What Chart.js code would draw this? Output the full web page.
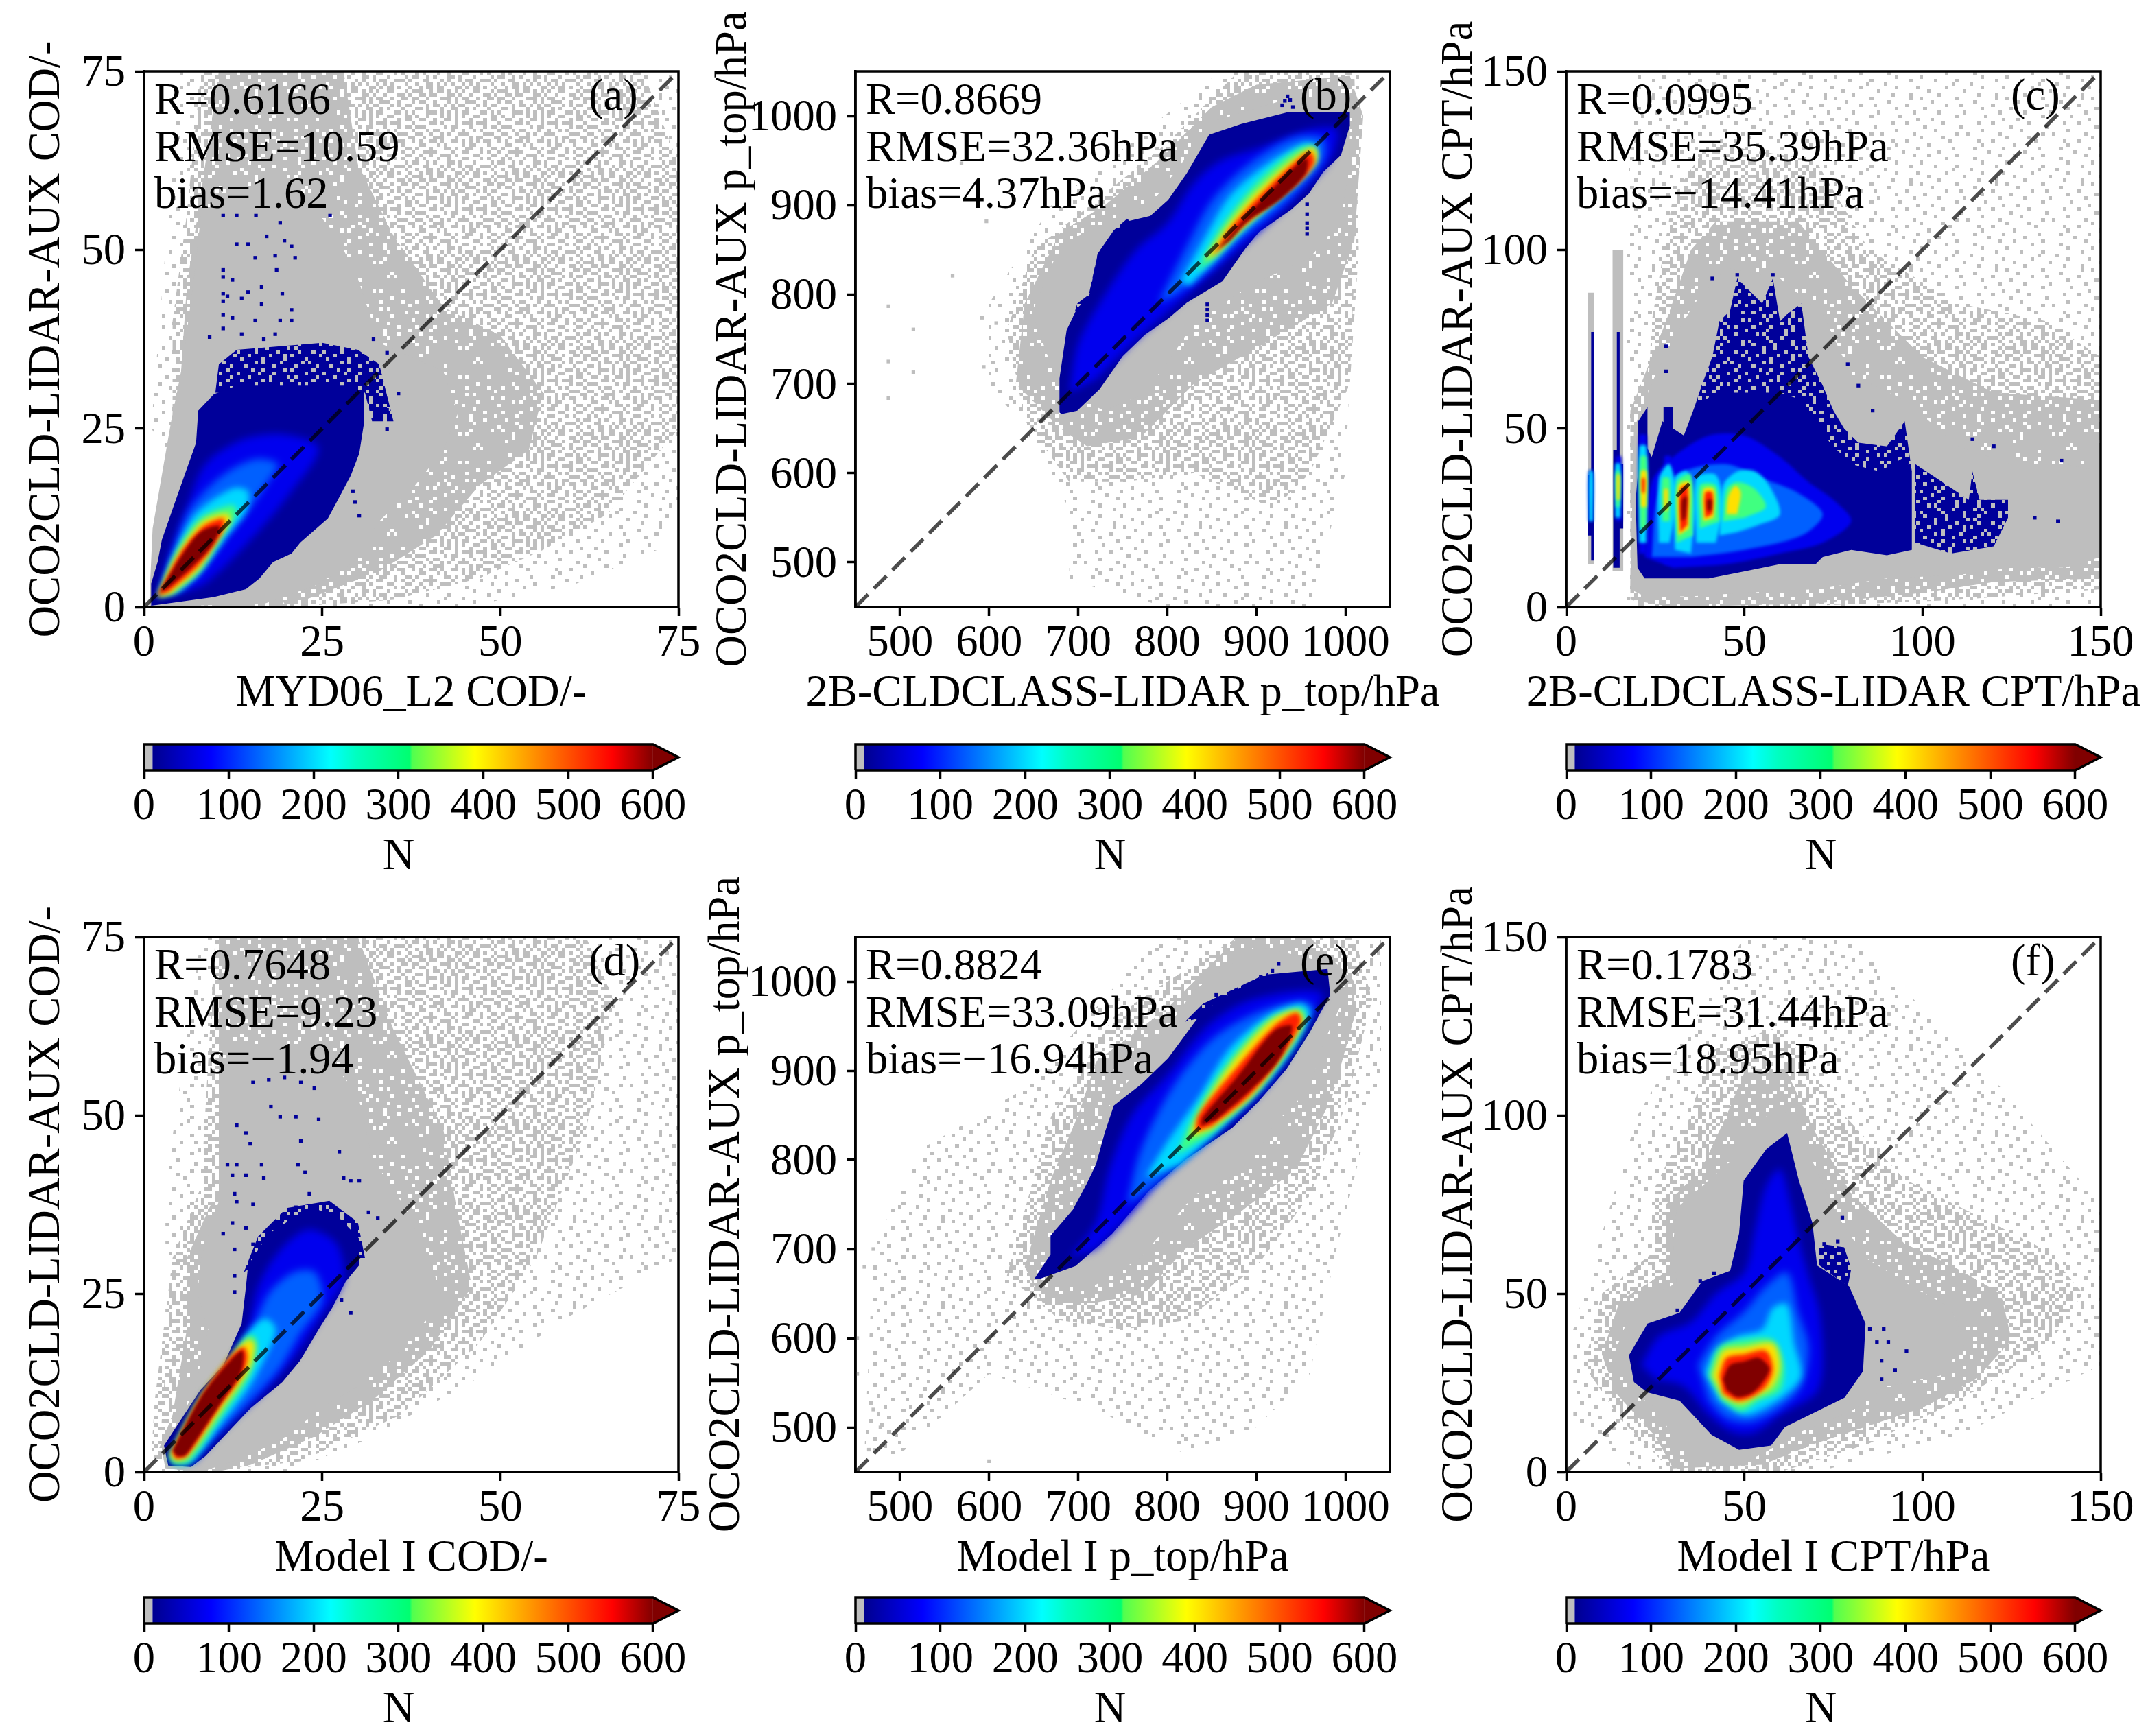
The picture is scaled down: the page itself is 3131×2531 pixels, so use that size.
<!DOCTYPE html>
<html>
<head>
<meta charset="utf-8">
<title>Cloud property comparison</title>
<script src="https://cdn.jsdelivr.net/npm/chart.js@4"></script>
<style>
  html, body { margin: 0; background: #fff; overflow: hidden; width: 3131px; height: 2531px; }
  canvas { position: absolute; }
</style>
</head>
<body>
<script>
// Data. Every region is a list of polygons, each a flat x,y,x,y list in axis units.
const codTicks = [0, 25, 50, 75];
const pressureTicks = [500, 600, 700, 800, 900, 1000];
const cptTicks = [0, 50, 100, 150];
const countTicks = [0, 100, 200, 300, 400, 500, 600];
const cmapCounts = [10, 79, 220, 250, 313, 316, 390, 460, 552, 600];
const cmapColors = ["#00008f", "#0000ff", "#00ffff", "#00ffc0", "#00ff70", "#50ff50", "#ffff00", "#ff9000", "#ff0000", "#800000"];

// (a)
const aSparse = [[1,25, 3,50, 5,75, 75,75, 75,15, 72,8, 60,3, 45,0, 20,0]];
const aMedium = [[4,25, 4,40, 6,55, 8,75, 70,75, 75,62, 75,25, 65,13, 56,8, 47,4, 35,1, 20,0]];
const aDense = [[5,30, 6,45, 8,58, 10.5,75, 28,75, 30,62, 35,52, 42,42, 50,38, 56,30, 54,22, 47,17, 41,10, 33,5, 20,0, 6,0]];
const aSolid = [[0.7,0, 1.2,11, 3.8,26, 5.4,34, 7,46, 8,55, 12,58, 22,58, 27,52, 30,46, 33,37, 42,33, 44,27, 42,22, 38,17, 33,12, 29,6, 24,3, 17,0.5]];
const aSpeck = [[10,30, 10.5,34, 13,36, 25,37, 30,36, 33,34, 35,26, 32,26, 31,30]];
const aBlue0 = [[1,0.2, 1,3.3, 1.9,6.3, 2.5,9.4, 4.1,14, 5.7,18.5, 7.3,23, 7.6,27.5, 9.8,29.8, 13,31, 24.5,31, 28.3,31, 30.9,30, 30.9,26, 30.2,21.5, 29,18.4, 27.4,15.4, 25.8,12.4, 21.9,9, 20.7,7.5, 18.1,6.3, 16.2,4, 14.3,2.5, 9.8,1.4, 5.4,0.8]];
const aBlue1 = [[1.9,1.7, 3.4,7, 6,14, 8.6,20, 13.7,23.4, 19.4,24.2, 24.5,22.3, 20.7,16.2, 15.6,10.1, 8.6,3.3, 4.1,1.7]];
const aBlue2 = [[2.2,1.7, 4.4,8.6, 6.6,13.9, 11.1,18.5, 15.6,20.7, 18.8,20, 17.5,17.7, 14.3,13.1, 10.5,8.6, 5.4,2.5]];
const aCyan = [[2.2,1.6, 4.4,7.8, 7.3,13.1, 12.4,16.6, 14.6,16.2, 14.3,13.5, 11.7,10.1, 7.9,4.8, 4.7,2.1]];
const aGreen = [[1.9,1.4, 4.4,7.4, 7.9,12.4, 12.4,14.3, 13,13.1, 11.7,11.2, 7.9,5.2, 4.1,1.9]];
const aYellow = [[1.9,1.4, 4.7,7.4, 8.2,12, 11.7,13.1, 12.1,12, 10.5,9.7, 7.6,5.2, 3.8,1.9]];
const aRed = [[1.9,1.6, 5,7.4, 8.2,11.2, 11.1,12.4, 11.1,10.9, 9.8,8.6, 7.3,5.5, 3.4,2.1]];
const aDark = [[2.2,2.1, 5.4,7.4, 7.9,10.5, 10.5,11.4, 10.5,10.5, 9.2,8.2, 6.6,5.5, 3.4,2.7]];
const aGreyCells = [];
const aBlueCells = [11.1,54.8, 13,54.8, 15.7,54.8, 26.1,54.8, 19.1,53.8, 17.2,51.9, 19.7,51.3, 20.7,50.5, 13,50.8, 14.6,50.8, 15.6,48.9, 18.4,49.2, 21.2,48.9, 18.6,47.2, 11.1,47.2, 11.1,46.2, 12.4,45.8, 16.5,44.8, 11.1,43.9, 14.6,44.1, 19.4,43.9, 11.7,43.5, 13.7,43.2, 11.1,42.8, 16.5,42.4, 20.7,41.6, 11.1,40.9, 12.4,40.5, 15.6,40.1, 19.1,40.1, 20.7,40.1, 11.1,39, 13.7,38.2, 9.2,37.8, 18.4,38.2, 16.8,37.5, 19.5,36.3, 34.1,35.6, 32.2,37.5, 35.7,29.9, 34.1,27.6, 34.1,24.9, 32.8,27.2, 29.6,14.7, 30.2,12.8, 29.3,16.2];

// (b)
const bSparse = [[690,480, 690,560, 640,650, 600,700, 600,790, 670,900, 860,1050, 1020,1050, 1000,600, 960,450, 800,450]];
const bMedium = [[690,590, 640,660, 620,760, 650,850, 720,905, 800,970, 880,1050, 1010,1050, 1015,850, 1005,700, 960,600, 920,560, 830,600, 750,590]];
const bDense = [[630,700, 640,790, 680,870, 730,900, 790,950, 850,1010, 900,1035, 1005,1045, 1020,1000, 1010,860, 985,790, 900,740, 830,700, 770,640, 710,630, 680,650]];
const bSolid = [[679,695, 648,780, 674,841, 699,865, 751,889, 782,902, 823,956, 848,993, 928,1017, 1005,1023, 1005,950, 995,883, 960,841, 893,810, 831,768, 775,689, 729,670]];
const bSpeck = [[690,760, 699,790, 712,800, 722,846, 740,872, 755,885, 770,870, 740,800, 700,740]];
const bBlue0 = [[679,668, 679,706, 687,760, 699,785, 712,797, 722,846, 740,870, 755,882, 781,888, 801,906, 822,936, 847,979, 883,991, 934,1004, 1005,1004, 1005,989, 995,956, 975,937, 959,913, 939,895, 903,870, 888,852, 862,815, 822,791, 801,773, 775,755, 750,731, 724,694, 699,670, 681,666]];
const bBlue1 = [[690,690, 700,745, 730,800, 765,850, 800,880, 830,925, 860,950, 905,965, 960,985, 990,985, 985,955, 960,925, 930,895, 880,850, 840,815, 800,780, 760,745, 720,705]];
const bBlue2 = [[790,790, 820,850, 850,905, 890,945, 940,975, 975,975, 975,950, 935,905, 880,860, 850,830, 810,800]];
const bCyan = [[815,815, 840,860, 870,910, 910,945, 955,970, 968,965, 965,945, 935,915, 885,870, 850,835, 825,810]];
const bGreen = [[832,825, 860,875, 900,925, 945,962, 965,965, 965,950, 935,920, 880,870, 850,838]];
const bYellow = [[842,838, 870,880, 900,915, 945,955, 965,965, 968,950, 945,925, 885,875, 855,845]];
const bRed = [[850,843, 870,873, 905,912, 945,950, 960,960, 965,948, 950,928, 895,885, 865,858]];
const bDark = [[856,850, 872,868, 905,905, 945,945, 957,952, 955,935, 925,905, 890,882, 870,860]];
const bGreyCells = [487,684, 487,725, 487,787, 559,821, 592,774, 608,768, 515,761, 515,713, 594,719, 597,882, 569,947];
const bBlueCells = [845,771, 845,777, 845,783, 845,789, 957,868, 957,874, 957,880, 957,890, 957,901, 929,1012, 932,1017, 935,1022, 938,1018, 941,1010];

// (c)
const cSparse = [[17,0, 17,115, 20,150, 150,150, 150,0]];
const cMedium = [[24,80, 30,115, 40,130, 70,125, 85,100, 110,85, 135,80, 150,70, 150,5, 110,2, 60,0, 20,0]];
const cDense = [[18,2, 18,55, 28,80, 35,100, 42,108, 65,108, 80,90, 100,70, 120,60, 150,58, 150,8, 120,7, 100,4, 70,1, 30,0]];
const cSolid = [[18,5, 19,50, 25,65, 30,75, 36,85, 45,95, 60,92, 72,82, 80,65, 95,58, 110,45, 125,40, 140,40, 150,38, 150,14, 140,11, 125,11, 110,9, 90,8, 70,5, 50,4, 35,3, 22,3], [6,12, 6,88, 7.7,88, 7.7,12], [13,10, 13,100, 16,100, 16,10]];
const cSpeck = [[36,56, 38,62, 41,70, 43,80, 46,83, 48,92, 52,88, 55,85, 58,92, 60,80, 62,82, 66,85, 68,70, 72,62, 75,55, 78,50, 82,46, 90,45, 95,52, 97,38, 88,36, 78,40, 70,50, 60,58, 50,58, 42,58], [98,18, 98,40, 104,36, 113,30, 114,38, 116,30, 124,30, 124,25, 120,17, 108,15]];
const cBlue0 = [[20,11, 19.5,30, 21,48, 24,42, 27,52, 30,50, 33,48, 36,56, 42,60, 50,60, 60,60, 66,58, 70,52, 74,46, 80,40, 88,38, 95,42, 97,38, 97,16, 90,14.5, 80,16, 72,14, 70,12, 60,12, 50,10, 40,8, 30,8, 22,8], [6,20, 6,37, 7,37, 7,77, 7.7,77, 7.7,13, 7,13, 7,20], [13.2,11, 13.2,44, 14.2,44, 14.2,77, 15,77, 15,40, 16,40, 16,22, 15,22, 15,11], [20.2,12, 20.2,52, 22.8,56, 22.8,12], [27.3,10, 27.3,56, 29.9,56, 29.9,10]];
const cBlue1 = [[22,14, 24,35, 30,42, 40,48, 50,48, 60,42, 68,35, 75,30, 80,24, 72,18, 60,15, 45,12, 30,11], [6.3,24, 6.3,38, 7.5,38, 7.5,24], [14,24, 14,42, 15.5,42, 15.5,24], [20.5,15, 20.5,48, 22.5,48, 22.5,15], [27.5,12, 27.5,42, 29.5,42, 29.5,12]];
const cBlue2 = [[24,14, 26,32, 33,38, 45,40, 55,36, 65,32, 72,26, 66,20, 50,16, 35,14]];
const cCyan = [[26,18, 26,36, 29,40, 31,30, 29,18], [30.5,16, 30.5,36, 34,38, 36,28, 35,15], [36.5,18, 36.5,36, 42,37, 44,28, 42,18], [43,20, 44,34, 48,38, 53,38, 57,34, 60,26, 54,23, 48,21], [20.5,18, 20.5,45, 22.5,45, 22.5,18], [13.8,25, 13.8,40, 15.2,40, 15.2,25], [6.4,24, 6.4,38, 7.5,38, 7.5,24]];
const cGreen = [[20.8,22, 20.8,42, 22.5,42, 22.5,22], [27,24, 27,36, 29,36, 29,24], [31,18, 31,35, 35,37, 35.5,20], [37.5,22, 37.5,34, 42,34, 43,24], [44,24, 45,33, 48,35, 53,33, 56,28, 50,25], [14,28, 14,38, 15,38, 15,28]];
const cYellow = [[21,28, 21,38, 22.5,38, 22.5,28], [27.5,27, 27.5,33, 28.5,33, 28.5,27], [31.5,20, 31.5,34, 34.5,35, 34.5,22], [38.5,24, 38.5,33, 41.5,33, 41.5,25], [45,26, 45.5,31, 47.5,34, 49,32, 48,26], [14.2,30, 14.2,37, 15,37, 15,30]];
const cRed = [[32,21, 32,33, 34,34, 34,23], [39,25, 39,32, 41,32, 41,26], [21.3,32, 21.3,36, 22,36, 22,32]];
const cDark = [[32.5,24, 32.5,30, 33.8,31, 33.5,25], [39.6,27, 39.6,30, 40.8,30, 40.8,27]];
const cGreyCells = [];
const cBlueCells = [114,47, 120,45, 139,41, 131.5,25, 138,24, 48,93, 41,92, 58,93, 28,73, 28,66, 79,68, 82,62, 86,55];

// (d)
const dSparse = [[3,15, 3,40, 8,75, 75,75, 75,30, 60,22, 45,12, 30,4, 20,0, 2,0]];
const dMedium = [[8,40, 10,75, 62,75, 66,66, 62,48, 55,30, 47,18, 36,8, 22,1.5, 8,0, 1,2, 1.5,10, 4,30]];
const dDense = [[10.5,40, 10.5,75, 30,75, 35,62, 42,48, 44,36, 46,26, 40,17, 32,10, 24,5, 15,1, 10,0, 5,0, 2,3, 4,8, 6,20, 6,30]];
const dSolid = [[3,0.5, 2.5,3, 7,11, 9,20, 7.5,25, 8,30, 10.5,38, 10.5,57, 14,60, 24,60, 30,53, 32,44, 36,38, 40,30, 42,24, 35,16, 30,12, 25,9, 20,5, 14,2, 8,0]];
const dSpeck = [[14,28, 16,33, 20,37, 26,38, 30,35, 31,30, 26,30, 20,32]];
const dBlue0 = [[3.1,2.2, 2.8,3.7, 7.9,11.5, 11.1,14.9, 13.7,20.8, 14.3,26, 14.6,29, 17.5,33.4, 23.2,37.1, 27,36, 30.2,32.7, 30.2,29, 28.3,26.7, 26.4,23, 24.5,20, 21.9,15.6, 19.4,12.6, 14.9,8.9, 8.6,2.2, 6.6,0.7, 3.4,0.9]];
const dBlue1 = [[4,2, 8,10, 11.5,14, 14.5,20, 16,26, 19,31, 23,34, 27,32, 28,27, 25,22, 21,16, 17,11.5, 12,7, 7,1.5]];
const dBlue2 = [[4,2, 8,9.5, 12,14, 14.8,19, 17.5,25, 21,28, 24,28, 25,24, 22,19.5, 19,14.5, 15,10, 10,5, 6.5,1.5]];
const dCyan = [[3.6,2, 8,10, 12,15.5, 14.5,19.5, 17,21.5, 18.5,20, 17,16, 14.5,11.5, 11,7, 6.5,1.2, 4,1]];
const dGreen = [[3.5,2.3, 8,10.5, 12,15.5, 14.5,19, 15.5,19, 15.8,17, 14.5,13, 11,8, 6.3,1.5, 4.2,1.2]];
const dYellow = [[3.7,2.5, 8,10.5, 12,16, 14.5,18.5, 15.5,18, 14.8,14.5, 11,9, 6,2, 4.3,1.5]];
const dRed = [[3.9,2.7, 8,10.5, 12,16, 14,17.5, 14.5,16, 13.7,13.5, 10.5,9, 6,2.3, 4.5,1.8]];
const dDark = [[4,3, 8,10.5, 12,15.5, 13.8,17, 13.6,14, 11,10, 7,4, 5.7,2.3, 4.6,2.2]];
const dGreyCells = [];
const dBlueCells = [15.3,54.6, 17.5,55, 19.7,55.3, 22,54.6, 23.9,53.8, 17.8,51.2, 19.1,49.8, 24.5,49.4, 13,48.6, 21.3,49.8, 14.3,47.5, 22,46.4, 27.4,44.9, 14.9,46, 11.7,43.1, 13,43.1, 12.4,41.6, 14.3,41.6, 16.5,43.1, 16.8,41.2, 21.6,43.1, 22.6,42, 30.2,40.8, 29,40.8, 12.7,39, 13,37.9, 15.3,37.5, 21.3,37.1, 23.2,39, 28,41.2, 11.1,33.4, 12.4,34.9, 14.3,34.2, 15.3,31.9, 12.7,31.2, 18.1,34.5, 19.4,35.3, 31.5,36.4, 32.8,35.6, 29,22.3, 27.7,24.1, 12.7,27.5, 12.7,25.2];

// (e)
const eSparse = [[460,470, 470,700, 520,810, 640,880, 790,1050, 1040,1050, 1040,900, 990,700, 960,560, 900,500, 820,470, 720,520, 600,560, 500,470]];
const eMedium = [[620,670, 650,780, 670,850, 740,960, 800,1000, 880,1050, 1010,1050, 1030,980, 1000,860, 960,760, 900,680, 820,620, 750,610, 680,620]];
const eDense = [[640,680, 670,780, 700,850, 720,910, 800,970, 880,1050, 960,1050, 1010,1000, 1010,960, 985,870, 945,790, 880,740, 820,700, 775,650, 720,640, 660,640]];
const eSolid = [[660,680, 690,710, 720,790, 735,860, 780,920, 830,990, 900,1040, 985,1020, 1000,985, 975,930, 960,880, 920,840, 890,790, 830,760, 770,690, 720,660, 670,660]];
const eSpeck = [[820,955, 840,975, 878,993, 914,1010, 900,985, 860,965]];
const eBlue0 = [[651,667, 669,694, 669,715, 694,744, 710,774, 720,795, 730,831, 740,861, 771,885, 801,914, 840,967, 878,991, 914,1008, 980,1014, 983,985, 960,943, 934,902, 903,866, 873,836, 820,800, 779,765, 738,717, 697,681, 658,667]];
const eBlue1 = [[690,690, 720,730, 735,790, 760,850, 800,895, 845,950, 890,978, 950,990, 975,985, 950,945, 925,900, 890,860, 850,825, 800,785, 760,740, 720,700]];
const eBlue2 = [[755,750, 770,810, 805,880, 850,935, 900,965, 950,978, 965,970, 945,935, 915,890, 880,855, 830,810, 790,775]];
const eCyan = [[775,780, 800,820, 835,870, 870,925, 915,963, 950,975, 960,965, 945,930, 905,880, 860,835, 815,795]];
const eGreen = [[810,805, 830,850, 865,905, 910,955, 950,970, 955,960, 935,920, 900,875, 850,830]];
const eYellow = [[825,825, 835,850, 870,905, 915,955, 945,968, 953,955, 930,918, 895,872, 850,835]];
const eRed = [[832,832, 835,850, 875,900, 920,950, 945,965, 950,955, 928,915, 890,870, 850,838]];
const eDark = [[838,838, 840,848, 880,895, 920,945, 940,950, 925,912, 890,875, 855,845]];
const eGreyCells = [465,475, 478,500, 470,520, 452,560, 452,600, 460,680, 470,700, 600,462];
const eBlueCells = [925,1020, 918,1012, 905,1005, 845,968, 855,985];

// (f)
const fSparse = [[2,15, 2,40, 20,100, 50,150, 80,150, 120,110, 150,75, 150,30, 110,10, 70,0, 20,0]];
const fMedium = [[5,30, 10,50, 25,62, 25,80, 35,100, 40,118, 60,125, 78,100, 95,82, 115,72, 135,62, 145,50, 135,35, 110,20, 85,8, 60,0, 30,0, 15,15]];
const fDense = [[14,22, 10,33, 15,48, 28,56, 28,75, 38,85, 45,100, 50,112, 62,112, 70,95, 80,78, 95,64, 108,58, 122,50, 125,37, 115,26, 100,18, 85,13, 70,8, 55,2, 30,1, 25,10]];
const fSolid = [[18,23, 13,32, 17,42, 25,50, 31,53, 30,64, 31,74, 38,80, 47,88, 53,96, 58,102, 64,100, 70,85, 76,72, 84,60, 97,52, 108,46, 112,36, 105,27, 90,24, 80,17, 65,11, 55,5, 48,2, 35,3, 30,10, 25,18]];
const fSpeck = [[71,58, 71,64, 78,63, 80,57, 79,52]];
const fBlue0 = [[17.6,32.7, 22.8,41.6, 31.8,44.6, 38.2,53.5, 46,56.4, 48.5,66.8, 49.8,81.7, 56.2,90.6, 62,95, 65.3,81.7, 69.1,69.8, 70.4,57.9, 79.4,52, 84,41.6, 83.3,28.2, 78.1,20.8, 61.4,12.6, 57.5,7.4, 48.5,6.2, 40.8,10.4, 31.8,20, 22.8,22.3, 19,25.2]];
const fBlue1 = [[21,30, 26,38, 35,42, 42,50, 50,56, 53,68, 56,80, 60,85, 63,75, 65,66, 68,55, 71,45, 72,30, 70,22, 60,16, 53,11, 47,11, 40,16, 33,24, 25,26]];
const fBlue2 = [[37,30, 42,38, 50,45, 56,52, 62,56, 65,45, 68,35, 66,24, 60,18, 52,14, 45,15, 40,20]];
const fCyan = [[39,28, 42,34, 48,38, 55,40, 58,46, 62,47, 64,36, 66,27, 62,22, 56,18, 50,16, 43,20]];
const fGreen = [[40,27, 43,35, 50,37, 58,37, 61,30, 60,23, 54,20, 49,17, 44,20]];
const fYellow = [[41,27, 44,34, 50,35, 58,36, 60,30, 58,24, 53,21, 49,19, 44,21]];
const fRed = [[43,27, 45,32, 50,33, 56,34, 58,29, 56,24, 52,21, 48,20, 44,22]];
const fDark = [[44,26, 46,30, 50,31, 54,32, 57,29, 55,25, 52,22, 48,21, 45,23]];
const fGreyCells = [];
const fBlueCells = [85.2,40.1, 89.1,40.1, 90.4,36.4, 87.2,36.4, 95.5,33.9, 88.5,31.2, 92.3,28.5, 88.5,26, 77.5,71.3, 76.2,64.6, 72.4,63.9, 41.5,55.7, 37.6,53.5, 31.2,45.3];

const statsA = ["R=0.6166", "RMSE=10.59", "bias=1.62"];
const statsB = ["R=0.8669", "RMSE=32.36hPa", "bias=4.37hPa"];
const statsC = ["R=0.0995", "RMSE=35.39hPa", "bias=\u221214.41hPa"];
const statsD = ["R=0.7648", "RMSE=9.23", "bias=\u22121.94"];
const statsE = ["R=0.8824", "RMSE=33.09hPa", "bias=\u221216.94hPa"];
const statsF = ["R=0.1783", "RMSE=31.44hPa", "bias=18.95hPa"];

// Styles
const FONT = '"Liberation Serif"';
const FONT_SIZE = 64.6;
const GREY = "#bebebe";
const LEVEL_COLORS = ["#00009a", "#0000ee", "#0060ff", "#00d8ff", "#40ff80", "#ffe000", "#ff2000", "#800000"];
const LEVEL_BLUR = [0, 6, 6, 5, 4, 4, 3, 2];
const CELL = 125 / 24;
const MARGIN = { left: 240, right: 90, top: 104, bottom: 180 };
const COLS = [210, 1247, 2283];
const WIDTH = 779;

const TILE_DENSE = ["##.#####.####.###.#####.","#####.##.#####.#.#######",".####.#####.#####.###.##","###.#####.###.#.#######.","#.#####.#####.#####.####","#####.#.####.#####.#.###","##.#######.#####.#####.#","####.##.#####.#.#####.##",".#####.###.########.####","###.#####.####.#.#####.#","#.#####.#.#####.#####.##","#####.######.####.#.####","##.###.###.#####.#####.#",".#####.#####.##.#####.##","####.#####.#####.#.#####","##.#####.##.#.#####.###.","#####.#.#####.#####.####","#.####.#####.##.#.#####.","####.#####.#.#####.#####","##.####.#####.#####.#.##",".#####.####.#.###.######","###.#.#####.#####.###.##","######.###.#####.#.#####","#.#####.#####.#####.###."];
const TILE_MEDIUM = ["#..#.##..#...##.#..#.#..",".##...#.##.#...#..##...#","#..##..#...##.#..#...##.","..#..#...##..#.##..#...#",".#.##..#...#.#...##..#..","#....#.##.#...##...#.#.#","..##.#...#..##..#.#...#.",".#...#.#.#.#...##...##..","#.#..#...#...#.#..##...#","...##..#..##.#...#...#.#",".#....##.#...#.##..##...","#..##.....#.##...#...#.#",".#...#.##...#..#..#.#...","..##..#..#.#...##....###","#...#...##...#...#.##...",".#.#..##....##.#...#..#.","...##...#.#....#.##...#.","#.#...#...##.#...#..#..#",".#..##.#....#..##...#.#.","#.....#..##..#....##...#","..#.#...#..#...##...#.#.",".##..#.#...##.#...#....#","#...#....#....#.##..##..","..#..##.#.#.#....#.#...#"];
const TILE_SPARSE = ["#.......#.........#.....","...#.........#..........","......#..........#....#.",".#.........#..........#.","....#...........#.......","........#...#........#..","..#...............#.....","......#......#.........#","...........#.......#....","#...#...................",".......#.........#...#..","..#.........#...........",".....#............#.....","...........#..#........#",".#.....#................",".........#.......#...#..","...#..............#.....","#.........#.....#.......","......#.............#...","...#.......#...........#","........#.......#.......",".#................#.....",".....#.....#..........#.","..........#....#........"];

const makeTile = (rows, color) => {
  const tile = document.createElement("canvas");
  tile.width = tile.height = 125;
  const g = tile.getContext("2d");
  g.fillStyle = color;
  rows.forEach((row, r) => {
    [...row].forEach((c, k) => {
      if (c === "#") g.fillRect(Math.round(k * CELL), Math.round(r * CELL), Math.round((k + 1) * CELL) - Math.round(k * CELL), Math.round((r + 1) * CELL) - Math.round(r * CELL));
    });
  });
  return g.createPattern(tile, "repeat");
};

const toPoints = (flat) => {
  const pts = [];
  for (let i = 0; i < flat.length; i += 2) pts.push({ x: flat[i], y: flat[i + 1] });
  return pts;
};

// Renderers
let layer = 1000;
const polygons = (list, color, tension = 0, blur = 0) => list.map((flat) => ({
  type: "line",
  data: toPoints(flat),
  fill: "shape",
  backgroundColor: color,
  borderWidth: 0,
  pointRadius: 0,
  tension,
  blur,
  order: layer--
}));

const cells = (flat, color) => ({
  type: "scatter",
  data: toPoints(flat),
  pointStyle: "rect",
  pointRadius: 3.7,
  pointBackgroundColor: color,
  pointBorderWidth: 0,
  order: layer--
});

// soften the steps between density levels: datasets draw last-to-first in the sorted metas
const softLevels = {
  id: "softLevels",
  afterDatasetDraw(chart, args) {
    const metas = chart.getSortedVisibleDatasetMetas();
    const next = metas[metas.indexOf(args.meta) - 1];
    const blur = next && chart.data.datasets[next.index].blur;
    chart.ctx.filter = blur ? `blur(${blur}px)` : "none";
  },
  afterDatasetsDraw(chart) {
    chart.ctx.filter = "none";
  }
};

// x title and statistics go through ctx directly: a scale title would squeeze long text to the axis width
const panelText = {
  id: "panelText",
  afterDraw(chart, _args, opts) {
    const { ctx, chartArea } = chart;
    ctx.save();
    ctx.fillStyle = "#000";
    ctx.font = `${FONT_SIZE}px ${FONT}`;
    ctx.textBaseline = "alphabetic";
    (opts.stats || []).forEach((line, i) => ctx.fillText(line, chartArea.left + 15, chartArea.top + 62 + i * 68.5));
    if (opts.letter) ctx.fillText(opts.letter, chartArea.left + 648, chartArea.top + 56);
    ctx.textAlign = "center";
    ctx.fillText(opts.xTitle, chart.scales.x.getPixelForValue(opts.xCenter), chartArea.bottom + opts.xTitleOffset);
    ctx.restore();
  }
};

const frame = {
  id: "frame",
  afterDatasetsDraw(chart) {
    const { ctx, chartArea: a } = chart;
    ctx.save();
    ctx.strokeStyle = "#000";
    ctx.lineWidth = 3.5;
    ctx.strokeRect(a.left, a.top, a.width, a.height);
    ctx.restore();
  }
};

const axisX = (min, max, ticks, height, padding) => ({
  type: "linear", min, max,
  afterBuildTicks: (s) => { s.ticks = ticks.map((value) => ({ value })); },
  afterFit: (s) => { s.height = height; },
  border: { display: true, color: "#000", width: 3.5 },
  grid: { display: true, drawOnChartArea: false, drawTicks: true, tickLength: 13, tickWidth: 3.5, tickColor: "#000" },
  ticks: { autoSkip: false, maxRotation: 0, padding, color: "#000", font: { family: FONT, size: FONT_SIZE, lineHeight: 1 }, callback: (v) => String(v) }
});

const makeCanvas = (left, top, width, height) => {
  const canvas = document.createElement("canvas");
  canvas.width = width;
  canvas.height = height;
  canvas.style.cssText = `left:${left}px;top:${top}px;width:${width}px;height:${height}px`;
  document.body.appendChild(canvas);
  return canvas;
};

const renderPanel = (p) => {
  const tDense = makeTile(TILE_DENSE, GREY);
  const tMedium = makeTile(TILE_MEDIUM, GREY);
  const tSparse = makeTile(TILE_SPARSE, GREY);
  const tBlue = makeTile(TILE_DENSE, LEVEL_COLORS[0]);
  layer = 1000;
  const datasets = [
    ...polygons(p.sparse, tSparse),
    ...polygons(p.medium, tMedium),
    ...polygons(p.dense, tDense),
    ...polygons(p.solid, GREY),
    cells(p.greyCells, GREY),
    ...polygons(p.speck, tBlue),
    ...p.levels.flatMap((list, i) => polygons(list, LEVEL_COLORS[i], i === 0 ? 0 : 0.3, p.narrow ? Math.min(LEVEL_BLUR[i], 2) : LEVEL_BLUR[i])),
    cells(p.blueCells, LEVEL_COLORS[0]),
    {
      type: "line",
      data: [{ x: p.min, y: p.min }, { x: p.max, y: p.max }],
      borderColor: "rgba(0,0,0,0.7)",
      borderWidth: 5.5,
      borderDash: [26, 12],
      pointRadius: 0,
      fill: false,
      order: 1
    }
  ];
  const canvas = makeCanvas(p.left - MARGIN.left, p.top - MARGIN.top, MARGIN.left + WIDTH + MARGIN.right, MARGIN.top + p.height + MARGIN.bottom);
  new Chart(canvas, {
    type: "scatter",
    data: { datasets },
    plugins: [softLevels, frame, panelText],
    options: {
      responsive: false,
      animation: false,
      devicePixelRatio: 1,
      events: [],
      layout: { padding: { top: MARGIN.top, right: MARGIN.right } },
      scales: {
        x: axisX(p.min, p.max, p.ticks, MARGIN.bottom, 9),
        y: {
          type: "linear", min: p.min, max: p.max,
          afterBuildTicks: (s) => { s.ticks = p.ticks.map((value) => ({ value })); },
          afterFit: (s) => { s.width = MARGIN.left; },
          border: { display: true, color: "#000", width: 3.5 },
          grid: { display: true, drawOnChartArea: false, drawTicks: true, tickLength: 13, tickWidth: 3.5, tickColor: "#000" },
          ticks: { autoSkip: false, padding: 14, labelOffset: 4, color: "#000", font: { family: FONT, size: FONT_SIZE, lineHeight: 1 }, callback: (v) => String(v) },
          title: { display: true, text: p.yTitle, color: "#000", font: { family: FONT, size: FONT_SIZE, lineHeight: 1 }, padding: { top: 208 - p.yTitleGap, bottom: 0 } }
        }
      },
      plugins: {
        legend: { display: false },
        tooltip: { enabled: false },
        panelText: { stats: p.stats, letter: p.letter, xTitle: p.xTitle, xCenter: (p.min + p.max) / 2, xTitleOffset: 144 }
      }
    }
  });
};

const renderColorbar = (left, top) => {
  const barHeight = 38;
  const canvas = makeCanvas(left - MARGIN.left, top - 40, MARGIN.left + WIDTH + MARGIN.right, 40 + barHeight + MARGIN.bottom);
  const maxCount = countTicks[countTicks.length - 1];
  // the layout is fixed, so the gradient can be placed before the scales exist
  const toPx = (n) => MARGIN.left + (n / 630) * WIDTH;
  const ramp = canvas.getContext("2d").createLinearGradient(toPx(10), 0, toPx(maxCount), 0);
  cmapCounts.forEach((n, i) => ramp.addColorStop((n - 10) / (maxCount - 10), cmapColors[i]));
  new Chart(canvas, {
    type: "scatter",
    data: {
      datasets: [
        { type: "line", data: toPoints([0,0, 10,0, 10,1, 0,1]), fill: "shape", backgroundColor: GREY, borderWidth: 0, pointRadius: 0, order: 4 },
        { type: "line", data: toPoints([10,0, maxCount,0, maxCount,1, 10,1]), fill: "shape", backgroundColor: ramp, borderWidth: 0, pointRadius: 0, order: 3 },
        { type: "line", data: toPoints([maxCount,0, 630,0.5, maxCount,1]), fill: "shape", backgroundColor: "#800000", borderWidth: 0, pointRadius: 0, clip: false, order: 2 },
        { type: "line", data: toPoints([0,0, maxCount,0, 630,0.5, maxCount,1, 0,1, 0,0]), fill: false, borderColor: "#000", borderWidth: 3.5, pointRadius: 0, clip: false, order: 1 }
      ]
    },
    plugins: [panelText],
    options: {
      responsive: false,
      animation: false,
      devicePixelRatio: 1,
      events: [],
      layout: { padding: { left: MARGIN.left, top: 40, right: MARGIN.right } },
      scales: {
        x: { ...axisX(0, 630, countTicks, MARGIN.bottom, 9), border: { display: false } },
        y: { type: "linear", min: 0, max: 1, display: false }
      },
      plugins: {
        legend: { display: false },
        tooltip: { enabled: false },
        panelText: { xTitle: "N", xCenter: 300, xTitleOffset: 144 }
      }
    }
  });
};

const panels = [
  { left: COLS[0], top: 104, height: 781, min: 0, max: 75, ticks: codTicks, letter: "(a)", stats: statsA, xTitle: "MYD06_L2 COD/-", yTitle: "OCO2CLD-LIDAR-AUX COD/-", yTitleGap: 141, sparse: aSparse, medium: aMedium, dense: aDense, solid: aSolid, speck: aSpeck, greyCells: aGreyCells, blueCells: aBlueCells, levels: [aBlue0, aBlue1, aBlue2, aCyan, aGreen, aYellow, aRed, aDark] },
  { left: COLS[1], top: 104, height: 781, min: 450, max: 1050, ticks: pressureTicks, letter: "(b)", stats: statsB, xTitle: "2B-CLDCLASS-LIDAR p_top/hPa", yTitle: "OCO2CLD-LIDAR-AUX p_top/hPa", yTitleGap: 177, sparse: bSparse, medium: bMedium, dense: bDense, solid: bSolid, speck: bSpeck, greyCells: bGreyCells, blueCells: bBlueCells, levels: [bBlue0, bBlue1, bBlue2, bCyan, bGreen, bYellow, bRed, bDark] },
  { left: COLS[2], top: 104, height: 781, min: 0, max: 150, ticks: cptTicks, letter: "(c)", stats: statsC, xTitle: "2B-CLDCLASS-LIDAR CPT/hPa", yTitle: "OCO2CLD-LIDAR-AUX CPT/hPa", yTitleGap: 155, narrow: true, sparse: cSparse, medium: cMedium, dense: cDense, solid: cSolid, speck: cSpeck, greyCells: cGreyCells, blueCells: cBlueCells, levels: [cBlue0, cBlue1, cBlue2, cCyan, cGreen, cYellow, cRed, cDark] },
  { left: COLS[0], top: 1366, height: 780, min: 0, max: 75, ticks: codTicks, letter: "(d)", stats: statsD, xTitle: "Model I COD/-", yTitle: "OCO2CLD-LIDAR-AUX COD/-", yTitleGap: 141, sparse: dSparse, medium: dMedium, dense: dDense, solid: dSolid, speck: dSpeck, greyCells: dGreyCells, blueCells: dBlueCells, levels: [dBlue0, dBlue1, dBlue2, dCyan, dGreen, dYellow, dRed, dDark] },
  { left: COLS[1], top: 1366, height: 780, min: 450, max: 1050, ticks: pressureTicks, letter: "(e)", stats: statsE, xTitle: "Model I p_top/hPa", yTitle: "OCO2CLD-LIDAR-AUX p_top/hPa", yTitleGap: 187, sparse: eSparse, medium: eMedium, dense: eDense, solid: eSolid, speck: eSpeck, greyCells: eGreyCells, blueCells: eBlueCells, levels: [eBlue0, eBlue1, eBlue2, eCyan, eGreen, eYellow, eRed, eDark] },
  { left: COLS[2], top: 1366, height: 780, min: 0, max: 150, ticks: cptTicks, letter: "(f)", stats: statsF, xTitle: "Model I CPT/hPa", yTitle: "OCO2CLD-LIDAR-AUX CPT/hPa", yTitleGap: 155, sparse: fSparse, medium: fMedium, dense: fDense, solid: fSolid, speck: fSpeck, greyCells: fGreyCells, blueCells: fBlueCells, levels: [fBlue0, fBlue1, fBlue2, fCyan, fGreen, fYellow, fRed, fDark] }
];

panels.forEach(renderPanel);
COLS.forEach((left) => {
  renderColorbar(left, 1085);
  renderColorbar(left, 2329);
});
</script>
</body>
</html>
